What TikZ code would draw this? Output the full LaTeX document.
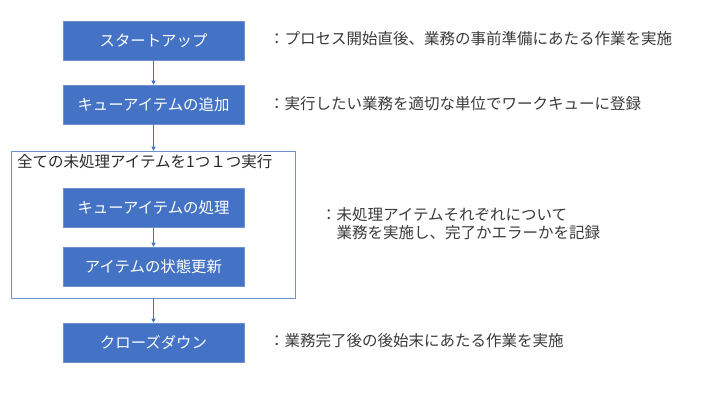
\documentclass[tikz,border=0pt]{standalone}
\usepackage{fontspec}
\setmainfont{Noto Sans CJK JP}
\usepackage{tikz}
\usetikzlibrary{arrows.meta}
\definecolor{officeblue}{HTML}{4472C4}
\definecolor{boxedge}{HTML}{6F8FCF}
\definecolor{notegray}{HTML}{3A3A3A}

\begin{document}
\begin{tikzpicture}[x=1pt, y=-1pt,
    stepbox/.style={draw=boxedge, fill=officeblue, text=white, line width=.6pt,
        minimum width=181pt, minimum height=39pt, inner sep=0pt,
        font=\fontsize{15.4}{17.5}\selectfont},
    loopframe/.style={draw=boxedge, line width=.6pt, minimum width=284pt,
        minimum height=147pt, inner sep=0pt},
    note/.style={anchor=west, inner sep=0pt, text=notegray, align=left,
        font=\fontsize{15.5}{17.5}\selectfont},
    flow/.style={draw=officeblue, line width=.6pt,
        -{Triangle[length=4pt,width=4pt]}}]
                \useasboundingbox (0,0) rectangle (720,405);
                % outer loop frame
                \node[loopframe] (loop) at (153.5,224.5) {};
                \node[note, text=notegray!70!black] (looptitle) at (17,162) {全ての未処理アイテムを1つ１つ実行};
                % steps
                \node[stepbox] (start) at (153.5,40.5) {スタートアップ};
                \node[stepbox] (add) at (153.5,104.5) {キューアイテムの追加};
                \node[stepbox] (proc) at (153.5,208) {キューアイテムの処理};
                \node[stepbox] (update) at (153.5,266.5) {アイテムの状態更新};
                \node[stepbox] (close) at (153.5,342.5) {クローズダウン};
                % connectors
                \draw[flow] (start) -- (add);
                \draw[flow] (add) -- (loop);
                \draw[flow] (proc) -- (update);
                \draw[flow] (loop) -- (close);
                % notes
                \node[note] (startnote) at (269,39) {：プロセス開始直後、業務の事前準備にあたる作業を実施};
                \node[note] (addnote) at (269,104) {：実行したい業務を適切な単位でワークキューに登録};
                \node[note] (loopnote) at (321,223.5) {：未処理アイテムそれぞれについて\\　業務を実施し、完了かエラーかを記録};
                \node[note] (closenote) at (269,341) {：業務完了後の後始末にあたる作業を実施};
\end{tikzpicture}
\end{document}
